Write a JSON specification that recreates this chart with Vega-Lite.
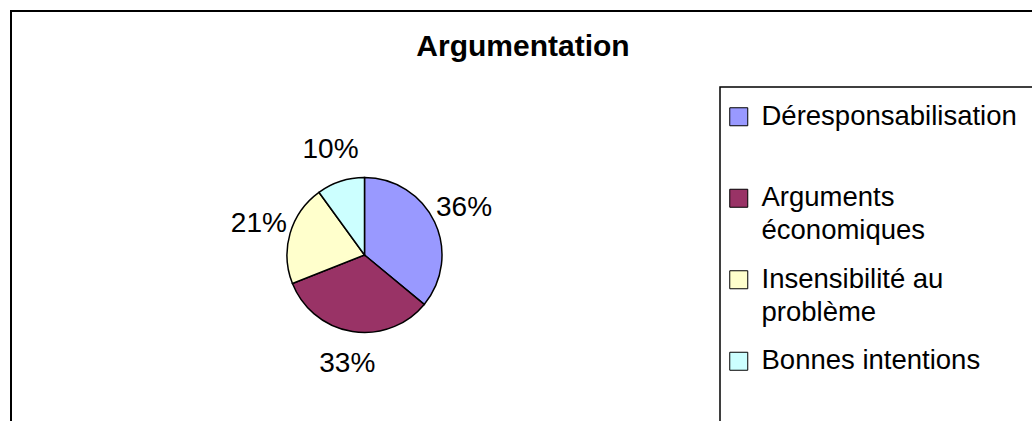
{
  "$schema": "https://vega.github.io/schema/vega-lite/v6.json",
  "autosize": "none",
  "width": 1024,
  "height": 420,
  "padding": {"left": 11, "top": 11, "right": 0, "bottom": 0},
  "background": "white",
  "view": {"stroke": "black", "strokeWidth": 2},
  "config": {
    "view": {"stroke": "black", "strokeWidth": 2},
    "font": "Liberation Sans"
  },
  "title": {
    "text": "Argumentation",
    "font": "Liberation Sans",
    "fontSize": 30,
    "fontWeight": "bold",
    "color": "black",
    "anchor": "middle",
    "baseline": "alphabetic",
    "offset": -45.7,
    "dy": 29
  },
  "data": {
    "values": [
      {"categorie": "Déresponsabilisation", "part": 0.36, "rang": 1},
      {"categorie": "Arguments économiques", "part": 0.33, "rang": 2},
      {"categorie": "Insensibilité au problème", "part": 0.21, "rang": 3},
      {"categorie": "Bonnes intentions", "part": 0.10, "rang": 4}
    ]
  },
  "encoding": {
    "theta": {"field": "part", "type": "quantitative", "stack": true},
    "order": {"field": "rang", "type": "quantitative"},
    "color": {
      "field": "categorie",
      "type": "nominal",
      "scale": {
        "domain": ["Déresponsabilisation", "Arguments économiques", "Insensibilité au problème", "Bonnes intentions"],
        "range": ["#9999FF", "#993366", "#FFFFCC", "#CCFFFF"]
      },
      "legend": {
        "title": null,
        "orient": "none",
        "legendX": 709,
        "legendY": 76,
        "direction": "vertical",
        "padding": 16,
        "strokeColor": "black",
        "fillColor": "white",
        "symbolType": "square",
        "symbolSize": 324,
        "symbolStrokeColor": "black",
        "symbolStrokeWidth": 1,
        "symbolOffset": -11,
        "labelOffset": 9,
        "labelFont": "Liberation Sans",
        "labelFontSize": 27.5,
        "labelColor": "black",
        "labelLimit": 400,
        "labelBaseline": "alphabetic",
        "rowPadding": 19.5,
        "gridAlign": "all",
        "labelExpr": "datum.label == 'Arguments économiques' ? ['Arguments', 'économiques'] : datum.label == 'Insensibilité au problème' ? ['Insensibilité au', 'problème'] : [datum.label, '']",
        "encode": {
          "labels": {"update": {"dy": {"value": 8}, "lineHeight": {"value": 33}}},
          "legend": {"update": {"strokeWidth": {"value": 1.5}}}
        }
      }
    }
  },
  "layer": [
    {
      "mark": {"type": "arc", "x": 353.5, "y": 244, "radius": 77.5, "stroke": "black", "strokeWidth": 1.5}
    },
    {
      "mark": {"type": "text", "x": 353.5, "y": 244, "radius": 110, "font": "Liberation Sans", "fontSize": 28, "color": "black", "align": "center", "baseline": "middle"},
      "encoding": {
        "text": {"field": "part", "type": "quantitative", "format": ".0%"},
        "color": {"value": "black"}
      }
    }
  ]
}
